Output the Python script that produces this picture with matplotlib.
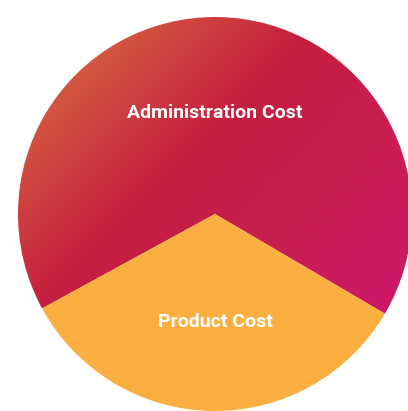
import numpy as np
import matplotlib.pyplot as plt
from matplotlib.colors import LinearSegmentedColormap

labels = ["Administration Cost", "Product Cost"]
shares = [66.4, 33.6]
label_pos = [(215, 113), (215, 322)]

product_color = "#fbaf40"
admin_cmap = LinearSegmentedColormap.from_list(
    "admin", [(0.0, "#d9633f"), (0.18, "#d2523f"), (0.44, "#c41e3f"),
              (0.7, "#c91e52"), (1.0, "#cd176f")])

W, H = 408, 411
fig = plt.figure(figsize=(W / 100, H / 100), dpi=100)
ax = fig.add_axes([0, 0, 1, 1])

cx, cy, r = 215, H - 214, 197
wedges, _ = ax.pie(shares, colors=["none", product_color], startangle=-30.4,
                   center=(cx, cy), radius=r, frame=True,
                   wedgeprops=dict(linewidth=0))

# diagonal gradient (top-left -> bottom-right) clipped to the admin slice
xx, yy = np.meshgrid(np.linspace(0, W, 400), np.linspace(0, H, 400))
t = (xx + (H - yy)) / (W + H)
t = np.clip((t - 0.05) / 0.85, 0, 1)
im = ax.imshow(t, cmap=admin_cmap, extent=(0, W, 0, H), origin="lower",
               vmin=0, vmax=1, interpolation="bilinear", zorder=0)
im.set_clip_path(wedges[0])

for lab, (x, y) in zip(labels, label_pos):
    ax.text(x, H - y, lab, color="white", fontsize=14, fontweight="bold",
            family="Roboto", ha="center", va="center", zorder=5)

ax.set_xlim(0, W)
ax.set_ylim(0, H)
ax.set_aspect("equal")
ax.axis("off")
fig.savefig("out.png", dpi=100, facecolor="white")
